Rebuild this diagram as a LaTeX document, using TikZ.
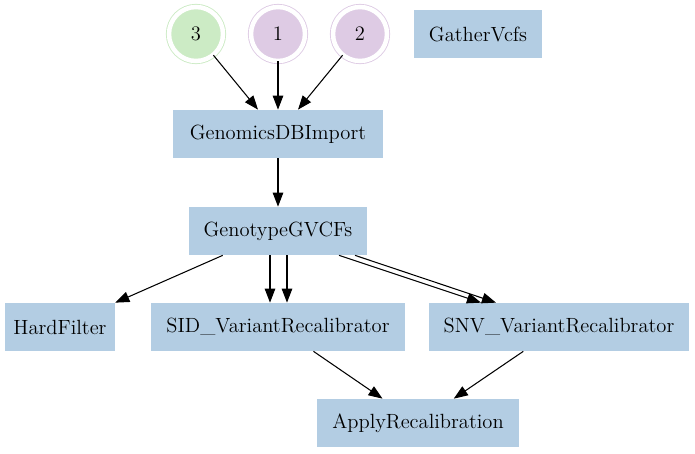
\documentclass[tikz,border=0pt]{standalone}
\usepackage{xcolor}
\usepackage{tikz}
\usetikzlibrary{shapes,arrows.meta,positioning,calc}

\definecolor{boxblue}{HTML}{B3CDE3}
\definecolor{ringgreen}{HTML}{CCEBC5}
\definecolor{ringpurple}{HTML}{DECBE4}

\tikzset{
  task/.style={rectangle, fill=boxblue, minimum height=0.96cm, inner sep=0pt},
  inputring/.style={circle, fill=#1, draw=#1, line width=0.5pt, double=white,
    double distance=0.09cm, minimum size=1.08cm, inner sep=0pt},
  arr/.style={-{Triangle[length=8pt,width=6pt]}, line width=0.6pt}
}

\begin{document}
\begin{tikzpicture}[x=0.02cm, y=-0.02cm, font=\fontsize{11.7}{14}\selectfont]
\useasboundingbox (0,0) rectangle (695,453);

% Inputs
\node[inputring=ringgreen]  (in3) at (196,34) {3};
\node[inputring=ringpurple] (in1) at (278,34) {1};
\node[inputring=ringpurple] (in2) at (360,34) {2};
\node[task, minimum width=2.58cm] (gather) at (478,34) {GatherVcfs};

% Joint genotyping
\node[task, minimum width=4.22cm] (gdbi) at (278,134) {GenomicsDBImport};
\node[task, minimum width=3.58cm] (ggvcf) at (278,231) {GenotypeGVCFs};

% Filtering / recalibration
\node[task, minimum width=2.22cm] (hard) at (60,327) {HardFilter};
\node[task, minimum width=5.08cm] (sid) at (278,327) {SID\_VariantRecalibrator};
\node[task, minimum width=5.22cm] (snv) at (559,327) {SNV\_VariantRecalibrator};
\node[task, minimum width=4.06cm] (apply) at (418,423) {ApplyRecalibration};

% Edges
\draw[arr] (in3) -- (gdbi);
\draw[arr] (in1) -- (gdbi);
\draw[arr] (in2) -- (gdbi);
\draw[arr] (gdbi) -- (ggvcf);
\draw[arr] (ggvcf) -- (hard);
\draw[arr] ([xshift=-0.16cm]ggvcf.south) -- ([xshift=-0.16cm]sid.north);
\draw[arr] ([xshift=0.18cm]ggvcf.south) -- ([xshift=0.18cm]sid.north);
\draw[arr] ([xshift=1.22cm]ggvcf.south) -- ([xshift=-1.56cm]snv.north);
\draw[arr] ([xshift=1.54cm]ggvcf.south) -- ([xshift=-1.26cm]snv.north);
\draw[arr] (sid) -- (apply);
\draw[arr] (snv) -- (apply);
\end{tikzpicture}
\end{document}
